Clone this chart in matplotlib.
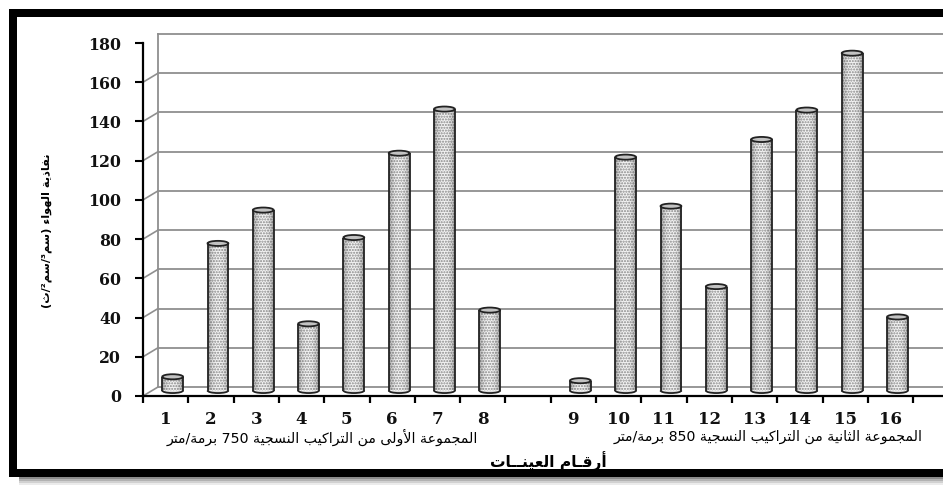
import re
import numpy as np
import matplotlib
matplotlib.use("Agg")
import matplotlib.pyplot as plt
import matplotlib.transforms as mtransforms
from matplotlib.patches import Ellipse, Arc
from matplotlib.lines import Line2D

# ---------------------------------------------------------------- data
sample_labels = ["1", "2", "3", "4", "5", "6", "7", "8",
                 "9", "10", "11", "12", "13", "14", "15", "16"]
group1_values = [7, 75, 92, 34, 78, 121, 143.5, 41]
group2_values = [5, 119, 94, 53, 128, 143, 172, 37.5]
group1_slots = [0, 1, 2, 3, 4, 5, 6, 7]
group2_slots = [9, 10, 11, 12, 13, 14, 15, 16]
y_ticks = [0, 20, 40, 60, 80, 100, 120, 140, 160, 180]

y_title = "نفاذية الهواء (سم³/سم²/ث)"
x_title = "أرقـام العينــات"
group1_title = "المجموعة الأولى من التراكيب النسجية 750 برمة/متر"
group2_title = "المجموعة الثانية من التراكيب النسجية 850 برمة/متر"

# ------------------------------------------------ minimal Arabic shaping
_FORMS = {
    "\u0621": ("U", 0xFE80), "\u0623": ("R", 0xFE83), "\u0627": ("R", 0xFE8D),
    "\u0628": ("D", 0xFE8F), "\u0629": ("R", 0xFE93), "\u062A": ("D", 0xFE95),
    "\u062B": ("D", 0xFE99), "\u062C": ("D", 0xFE9D), "\u0630": ("R", 0xFEAB),
    "\u0631": ("R", 0xFEAD), "\u0633": ("D", 0xFEB1), "\u0639": ("D", 0xFEC9),
    "\u0641": ("D", 0xFED1), "\u0642": ("D", 0xFED5), "\u0643": ("D", 0xFED9),
    "\u0644": ("D", 0xFEDD), "\u0645": ("D", 0xFEE1), "\u0646": ("D", 0xFEE5),
    "\u0647": ("D", 0xFEE9), "\u0648": ("R", 0xFEED), "\u0649": ("R", 0xFEEF),
    "\u064A": ("D", 0xFEF1), "\u0640": ("D", None),
}
_LAM_ALEF = {"\u0627": 0xFEFB, "\u0623": 0xFEF7}


def shape_ar(text):
    """Contextual forms + right-to-left visual ordering for plain Arabic text."""
    items = []
    i = 0
    while i < len(text):
        c = text[i]
        if c == "\u0644" and i + 1 < len(text) and text[i + 1] in _LAM_ALEF:
            items.append(("R", _LAM_ALEF[text[i + 1]], None))
            i += 2
            continue
        if c in _FORMS:
            t, b = _FORMS[c]
            items.append((t, b, c))
        else:
            items.append(("U", None, c))
        i += 1
    out = []
    for k, (t, b, c) in enumerate(items):
        prev_t = items[k - 1][0] if k > 0 else "U"
        next_t = items[k + 1][0] if k + 1 < len(items) else "U"
        jp = t in "DR" and prev_t == "D"
        jn = t == "D" and next_t in "DR"
        if b is None:
            out.append(c)
        elif t == "U":
            out.append(chr(b))
        elif t == "R":
            out.append(chr(b + (1 if jp else 0)))
        else:
            out.append(chr(b + (3 if (jp and jn) else 1 if jp else 2 if jn else 0)))
    tokens = re.findall(r"[0-9\u00b2\u00b3]+|.", "".join(out))
    mirror = {"(": ")", ")": "("}
    return "".join(mirror.get(t, t) for t in reversed(tokens))


# ---------------------------------------------------------------- figure
W, H = 943, 487
fig = plt.figure(figsize=(W / 100, H / 100), dpi=100)
fig.patch.set_facecolor("white")


def fpx(x, y):
    return x / W, 1 - y / H


n_slots = 18
ax_left, ax_bottom_px, ax_top_px = 143, 396, 43
slot_px = 45.3
ax = fig.add_axes([ax_left / W, 1 - ax_bottom_px / H,
                   n_slots * slot_px / W, (ax_bottom_px - ax_top_px) / H])
ax.patch.set_alpha(0)

# depth offsets (pixels) for the back wall and the bar centre plane
back = mtransforms.offset_copy(ax.transData, fig, x=15, y=9, units="dots")
mid = mtransforms.offset_copy(ax.transData, fig, x=7, y=5.5, units="dots")

ax.set_xlim(-0.5, n_slots - 0.5)
ax.set_ylim(0, 180)

grid_c = "#8f8f8f"
x_end = n_slots + 1
for v in y_ticks:
    ax.plot([-0.5, x_end], [v, v], transform=back, color=grid_c, lw=1.3,
            clip_on=False, zorder=1)
    # diagonal joining the front axis to the back wall
    x0, y0 = ax.transData.transform((-0.5, v))
    ax.add_line(Line2D([x0, x0 + 15], [y0, y0 + 9], transform=None,
                       color=grid_c, lw=1.2, zorder=1))
ax.plot([-0.5, -0.5], [0, 180], transform=back, color=grid_c, lw=1.3,
        clip_on=False, zorder=1)

# spines and ticks
for s in ("top", "right"):
    ax.spines[s].set_visible(False)
for s in ("left", "bottom"):
    ax.spines[s].set_linewidth(1.6)
    ax.spines[s].set_color("black")
ax.spines["bottom"].set_bounds(-0.5, x_end)

tick_font = dict(fontfamily="DejaVu Serif", fontweight="bold", color="#111111")
ax.set_yticks(y_ticks)
ax.set_yticklabels([str(v) for v in y_ticks], fontsize=11.3, **tick_font)
ax.tick_params(axis="y", direction="out", length=6, width=1.5, pad=10)

all_slots = group1_slots + group2_slots
ax.set_xticks(all_slots)
ax.set_xticklabels(sample_labels, fontsize=12, **tick_font)
ax.tick_params(axis="x", which="major", length=0, pad=11)
ax.set_xticks([k - 0.5 for k in range(n_slots + 1)], minor=True)
ax.tick_params(axis="x", which="minor", direction="out", length=5, width=1.6)

# ---------------------------------------------------------------- bars
bar_w = 0.46
cap_h = 2.6
values = group1_values + group2_values
bars = ax.bar(all_slots, values, width=bar_w, transform=mid,
              facecolor="#f3f3f3", edgecolor="#8a8a8a", linewidth=0,
              hatch="......", zorder=3)

# cylinder shading: darker towards both sides
t = np.linspace(-1, 1, 48)
shade = np.zeros((1, t.size, 4))
shade[..., 3] = 0.32 * np.abs(t) ** 2.6

for rect, x, v in zip(bars.patches, all_slots, values):
    im = ax.imshow(shade, extent=[x - bar_w / 2, x + bar_w / 2, 0, v],
                   aspect="auto", transform=mid, zorder=3.5,
                   interpolation="bilinear")
    im.set_clip_path(rect)
    ax.plot([x - bar_w / 2, x - bar_w / 2], [0, v], transform=mid,
            color="#222222", lw=1.3, zorder=4, solid_capstyle="butt")
    ax.plot([x + bar_w / 2, x + bar_w / 2], [0, v], transform=mid,
            color="#222222", lw=1.3, zorder=4, solid_capstyle="butt")
    ax.add_patch(Ellipse((x, 0), bar_w, cap_h, transform=mid,
                         facecolor="#dedede", edgecolor="none", zorder=2.9))
    ax.add_patch(Arc((x, 0), bar_w, cap_h, theta1=180, theta2=360,
                     transform=mid, color="#222222", lw=1.3, zorder=4))
    ax.add_patch(Ellipse((x, v), bar_w, cap_h, transform=mid,
                         facecolor="#c2c2c2", edgecolor="#222222", lw=1.3,
                         zorder=5))

ax.set_xlim(-0.5, n_slots - 0.5)
ax.set_ylim(0, 180)

# ---------------------------------------------------------------- texts
ar_font = "DejaVu Sans"
fig.text(*fpx(47, 231), shape_ar(y_title), rotation=90, ha="center",
         va="center", fontfamily=ar_font, fontweight="bold", fontsize=8.2)
fig.text(*fpx(548, 461), shape_ar(x_title), ha="center", va="center",
         fontfamily=ar_font, fontweight="bold", fontsize=11.2)
fig.text(*fpx(322, 437), shape_ar(group1_title), ha="center", va="center",
         fontfamily=ar_font, fontsize=10.2)
fig.text(*fpx(768, 437), shape_ar(group2_title), ha="center", va="center",
         fontfamily=ar_font, fontsize=10.2)

# ---------------------------------------------------------------- frame
frame_lw = 8 * 72 / 100
for xs, ys in (([12.5, 960], [12.5, 12.5]), ([12.5, 12.5], [12.5, 472.5]),
               ([12.5, 960], [472.5, 472.5])):
    fx, fy = zip(*[fpx(a, b) for a, b in zip(xs, ys)])
    fig.add_artist(Line2D(fx, fy, transform=fig.transFigure, color="black",
                          lw=frame_lw, solid_capstyle="projecting"))
for k, a in enumerate([0.45, 0.3, 0.18, 0.08]):
    fx, fy = zip(*[fpx(a_, b_) for a_, b_ in zip([20, 960], [478 + k * 2] * 2)])
    fig.add_artist(Line2D(fx, fy, transform=fig.transFigure, color="black",
                          alpha=a, lw=2 * 72 / 100))

fig.savefig("out.png", dpi=100)
